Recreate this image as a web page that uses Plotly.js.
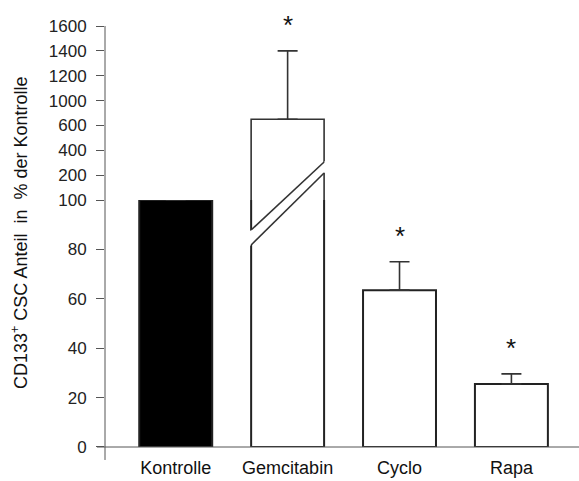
<!DOCTYPE html>
<html>
<head>
<meta charset="utf-8">
<script src="https://cdn.plot.ly/plotly-3.0.1.min.js"></script>
<style>html,body{margin:0;padding:0;background:#fff;}#chart{width:579px;height:481px;}</style>
</head>
<body>
<div id="chart"></div>
<script>
// ---- data ----
const categories = ['Kontrolle', 'Gemcitabin', 'Cyclo', 'Rapa'];
const values = [100, 650, 63.5, 25.5];
const errPlus = [0, 550, 11.5, 4.1];
const significant = [false, true, true, true];
const barColors = ['#000000', '#ffffff', '#ffffff', '#ffffff'];
const lowerTickVals = [0, 20, 40, 60, 80, 100];
const upperTickVals = [200, 400, 600, 800, 1000, 1200, 1400];
const upperTickText = ['200', '400', '600', '1000', '1200', '1400', '1600'];
const brokenIndex = 1;           // Gemcitabin exceeds the lower scale
const upperBase = -200;          // base below the upper panel so its bottom edge is hidden

const xpos = categories.map((c, i) => i);
const FONT = 'Arial, "Liberation Sans", sans-serif';
const BW = 0.652;
const LOWER_TOP = 0.5652;

const lowerTrace = {
  type: 'bar', x: xpos, y: values, width: BW, xaxis: 'x', yaxis: 'y',
  marker: { color: barColors, line: { color: '#222', width: 2 } },
  error_y: { type: 'data', symmetric: false,
    array: errPlus.map((e, i) => i === brokenIndex ? 0 : e),
    arrayminus: errPlus.map(() => 0),
    color: '#333', thickness: 1.6, width: 10 },
  cliponaxis: true, hoverinfo: 'none', showlegend: false
};
const upperTrace = {
  type: 'bar', x: [xpos[brokenIndex]], y: [values[brokenIndex] - upperBase], base: [upperBase],
  width: BW, xaxis: 'x', yaxis: 'y2',
  marker: { color: barColors[brokenIndex], line: { color: '#333', width: 1.6 } },
  error_y: { type: 'data', symmetric: false, array: [errPlus[brokenIndex]], arrayminus: [0],
    color: '#333', thickness: 1.6, width: 10 },
  cliponaxis: true, hoverinfo: 'none', showlegend: false
};

// asterisks
const annotations = [];
categories.forEach((c, i) => {
  if (!significant[i]) return;
  annotations.push({
    x: xpos[i], y: values[i] + errPlus[i], xref: 'x', yref: i === brokenIndex ? 'y2' : 'y',
    text: '*', showarrow: false, yanchor: 'bottom', yshift: 9,
    font: { family: FONT, size: 26, color: '#111' }
  });
});
// y-axis title
annotations.push({
  xref: 'paper', yref: 'paper', x: -0.179, y: 0.49, textangle: -90,
  text: 'CD133<sup>+</sup> CSC Anteil\u00a0 in\u00a0 % der Kontrolle', showarrow: false,
  font: { family: FONT, size: 18, color: '#111' }, xanchor: 'center', yanchor: 'middle'
});

// break marks on the Gemcitabin bar (paper y)
const bx0 = xpos[brokenIndex] - BW / 2, bx1 = xpos[brokenIndex] + BW / 2;
const ext = 0.04, slope = (0.6522 - 0.4966) / BW;
const l1a = 0.4966, l1b = 0.6522, l2a = 0.4622, l2b = 0.6270;
const shapes = [
  { type: 'path', xref: 'x', yref: 'paper', layer: 'above', line: { width: 0 }, fillcolor: '#fff',
    path: `M ${bx0 - ext},${l1a - ext * slope} L ${bx1 + ext},${l1b + ext * slope} L ${bx1 + ext},${l2b + ext * slope} L ${bx0 - ext},${l2a - ext * slope} Z` },
  { type: 'line', xref: 'x', yref: 'paper', layer: 'above', x0: bx0, x1: bx1, y0: l1a, y1: l1b, line: { color: '#333', width: 1.6 } },
  { type: 'line', xref: 'x', yref: 'paper', layer: 'above', x0: bx0, x1: bx1, y0: l2a, y1: l2b, line: { color: '#333', width: 1.6 } },
  // axis lines
  { type: 'line', xref: 'paper', yref: 'paper', layer: 'above', x0: 0, x1: 0, y0: -0.0297, y1: 0.9634, line: { color: '#555', width: 1 } },
  { type: 'line', xref: 'paper', yref: 'paper', layer: 'above', x0: -0.0169, x1: 1, y0: 0, y1: 0, line: { color: '#555', width: 1 } }
];

const layout = {
  width: 579, height: 481, autosize: false,
  margin: { l: 105, r: 0, t: 10, b: 34 },
  paper_bgcolor: '#fff', plot_bgcolor: '#fff',
  barmode: 'overlay', showlegend: false,
  font: { family: FONT, color: '#222' },
  xaxis: { range: [-0.632, 3.604], tickvals: xpos, ticktext: categories, ticks: '',
    showgrid: false, zeroline: false, showline: false, fixedrange: true,
    tickfont: { family: FONT, size: 18, color: '#111' }, ticklabelstandoff: 8, anchor: 'y' },
  yaxis: { domain: [0, LOWER_TOP], range: [0, 100], tickvals: lowerTickVals,
    ticks: 'outside', ticklen: 8, tickcolor: '#555', tickwidth: 1,
    showgrid: false, zeroline: false, showline: false, anchor: 'x',
    tickfont: { family: FONT, size: 17, color: '#222' }, ticklabelstandoff: 6 },
  yaxis2: { domain: [LOWER_TOP, 1], range: [0, 1529], tickvals: upperTickVals, ticktext: upperTickText,
    ticks: 'outside', ticklen: 8, tickcolor: '#555', tickwidth: 1,
    showgrid: false, zeroline: false, showline: false, anchor: 'x',
    tickfont: { family: FONT, size: 17, color: '#222' }, ticklabelstandoff: 6 },
  annotations: annotations, shapes: shapes
};

Plotly.newPlot('chart', [lowerTrace, upperTrace], layout, { staticPlot: true, displayModeBar: false });
</script>
</body>
</html>
